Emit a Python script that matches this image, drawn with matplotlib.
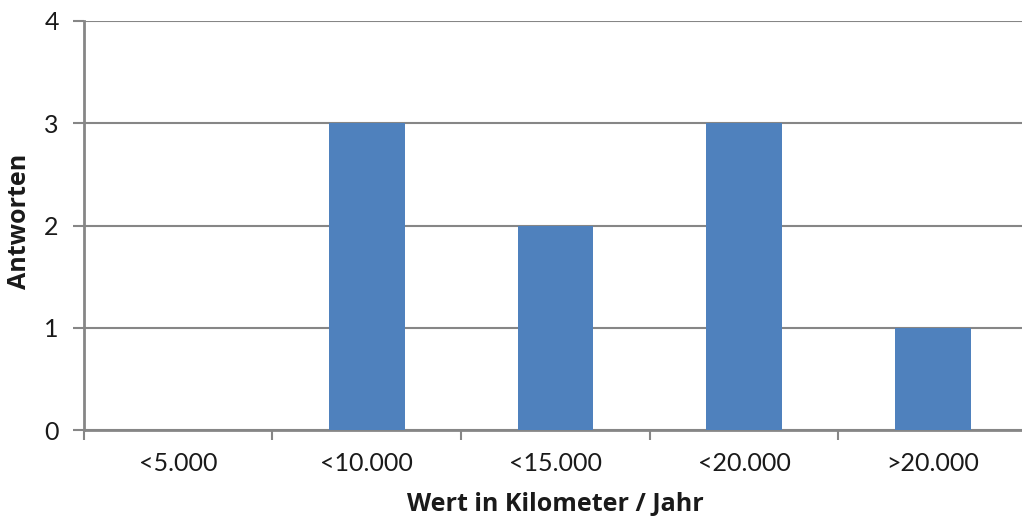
import matplotlib
matplotlib.use("Agg")
import numpy as np
from matplotlib import pyplot as plt

# Kategorien und Antworten
categories = ['<5.000', '<10.000', '<15.000', '<20.000', '>20.000']
answers = [0, 3, 2, 3, 1]
y_ticks = [0, 1, 2, 3, 4]

GRID = '#868686'
BAR = '#4F81BD'
TEXT = '#1a1a1a'

fig = plt.figure(figsize=(10.22, 5.22), dpi=100)
# Plotbereich läuft rechts leicht über den Bildrand hinaus (wie im Original)
ax = fig.add_axes([0.082, 0.176, 0.923, 0.784])

x = np.arange(len(categories))
ax.bar(x, answers, width=0.4, color=BAR, zorder=3)

ax.set_xlim(-0.5, len(categories) - 0.5)
ax.set_ylim(0, 4)
ax.set_yticks(y_ticks)
ax.set_yticklabels([str(t) for t in y_ticks], fontsize=18, family='Lato', color=TEXT)
ax.set_xticks(x)
ax.set_xticklabels(categories, fontsize=18, family='Lato', color=TEXT)
ax.tick_params(axis='x', length=0, pad=16)
ax.set_xticks(np.arange(-0.5, len(categories)), minor=True)
ax.tick_params(axis='x', which='minor', length=7, width=1.5, color=GRID, direction='out')
ax.tick_params(axis='y', length=8, width=1.5, color=GRID, pad=10)

ax.grid(axis='y', color=GRID, linewidth=1.5, zorder=0)
for side in ['top', 'right']:
    ax.spines[side].set_visible(False)
for side in ['left', 'bottom']:
    ax.spines[side].set_color(GRID)
    ax.spines[side].set_linewidth(2)

ax.set_xlabel('Wert in Kilometer / Jahr', fontsize=18, fontweight='bold', family='Open Sans', color=TEXT)
ax.set_ylabel('Antworten', fontsize=18, fontweight='bold', family='Open Sans', color=TEXT)
ax.xaxis.set_label_coords(0.5, -0.15)
ax.yaxis.set_label_coords(-0.055, 0.51)

plt.savefig('out.png', dpi=100)
